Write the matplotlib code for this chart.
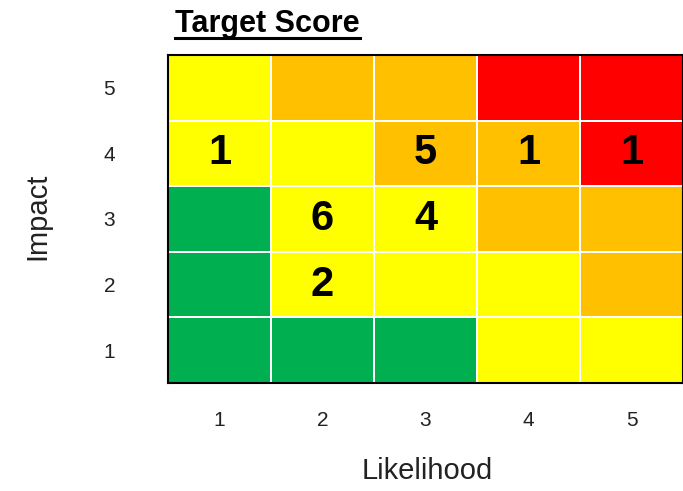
import matplotlib
matplotlib.use("Agg")
import matplotlib.pyplot as plt
from matplotlib.colors import ListedColormap, BoundaryNorm
from matplotlib.lines import Line2D
import numpy as np

plt.rcParams['font.family'] = ['Liberation Sans', 'DejaVu Sans']

likelihood = [1, 2, 3, 4, 5]
impact = [1, 2, 3, 4, 5]
# risk level per cell: 0 green, 1 yellow, 2 orange, 3 red; rows = impact 1..5
levels = [
    [0, 0, 0, 1, 1],  # impact 1
    [0, 1, 1, 1, 2],  # impact 2
    [0, 1, 1, 2, 2],  # impact 3
    [1, 1, 2, 2, 3],  # impact 4
    [1, 2, 2, 3, 3],  # impact 5
]
counts = [
    [0, 0, 0, 0, 0],
    [0, 2, 0, 0, 0],
    [0, 6, 4, 0, 0],
    [1, 0, 5, 1, 1],
    [0, 0, 0, 0, 0],
]
level_colors = ['#00B050', '#FFFF00', '#FFC000', '#FF0000']

fig = plt.figure(figsize=(6.83, 4.91), dpi=100)
ax = fig.add_axes([168 / 683, 1 - 383 / 491, 515 / 683, 328 / 491])

cmap = ListedColormap(level_colors)
norm = BoundaryNorm(np.arange(-0.5, 4.5, 1), cmap.N)
xe = np.arange(0.5, 6.5, 1)
ye = np.arange(0.5, 6.5, 1)
ax.pcolormesh(xe, ye, np.array(levels), cmap=cmap, norm=norm,
              edgecolor='white', linewidth=1.2)

for i, imp in enumerate(impact):
    for j, lk in enumerate(likelihood):
        c = counts[i][j]
        if c:
            ax.text(lk, imp, str(c), ha='center', va='center',
                    fontsize=30, fontweight='bold', color='black')

ax.set_xlim(0.5, 5.5)
ax.set_ylim(0.5, 5.5)
ax.set_xticks(likelihood)
ax.set_yticks(impact)
ax.tick_params(length=0, labelsize=15, colors='#222222')
ax.tick_params(axis='x', pad=20)
ax.tick_params(axis='y', pad=38)
for s in ax.spines.values():
    s.set_linewidth(1.5)
    s.set_color('black')

ax.set_xlabel('Likelihood', fontsize=21, color='#222222')
ax.set_ylabel('Impact', fontsize=21, color='#222222')
ax.xaxis.set_label_coords((427 - 168) / 515, (383 - 471) / 328)
ax.xaxis.label.set_va('center')
ax.yaxis.set_label_coords((37 - 168) / 515, (383 - 216) / 328)
ax.yaxis.label.set_ha('center')
ax.yaxis.label.set_va('center')

t = fig.text(175 / 683, 1 - 32 / 491, 'Target Score', fontsize=22,
             fontweight='bold', ha='left', va='baseline')
fig.canvas.draw()
bb = t.get_window_extent().transformed(fig.transFigure.inverted())
yl = 1 - 38 / 491
fig.add_artist(Line2D([bb.x0, bb.x1], [yl, yl],
                      transform=fig.transFigure, color='black', linewidth=2.2))

fig.savefig('out.png', dpi=100)
